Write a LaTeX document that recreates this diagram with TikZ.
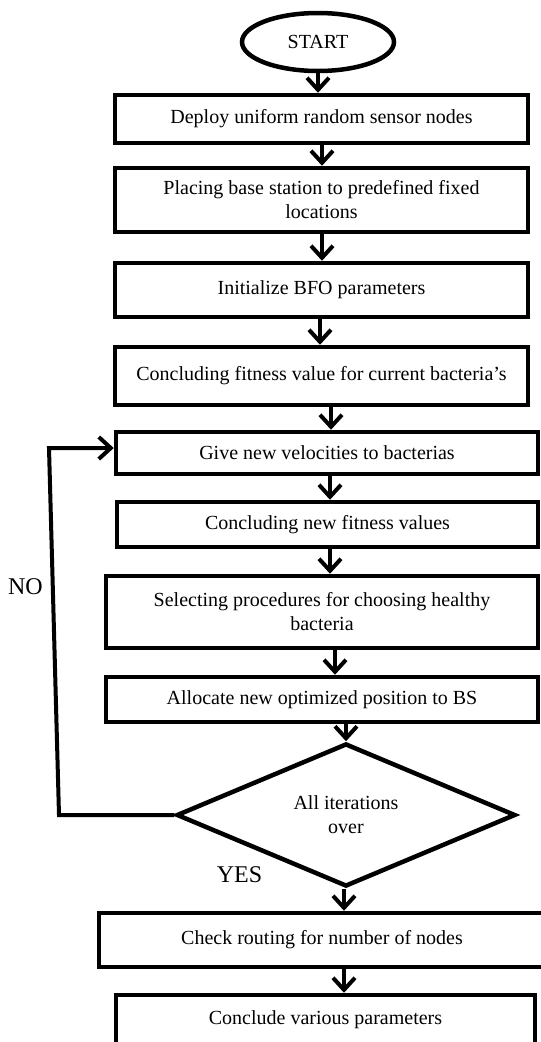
\documentclass[tikz,border=0pt]{standalone}
\usepackage{fontspec}
\setmainfont{Liberation Serif}
\usetikzlibrary{shapes.geometric,arrows.meta}
\begin{document}
\begin{tikzpicture}[x=1pt,y=-1pt,
  stepbox/.style={draw=black,line width=4.5pt,rectangle,inner sep=0pt,align=center,
    font=\fontsize{20}{24}\selectfont,fill=white},
  arr/.style={draw=black,line width=4pt,-{Straight Barb[length=12pt,width=22pt]}},
  lbl/.style={inner sep=0pt,font=\fontsize{24}{28}\selectfont}]
\useasboundingbox (0,0) rectangle (541,1042);
\fill[white] (0,0) rectangle (541,1042);

\node[draw=black,line width=4.5pt,ellipse,inner sep=0pt,minimum width=152pt,minimum height=58pt,
  font=\fontsize{20}{24}\selectfont] (start) at (318,42) {START};
\node[stepbox,minimum width=413pt,minimum height=48pt] (b1) at (321.5,119) {Deploy uniform random sensor nodes};
\node[stepbox,minimum width=413pt,minimum height=64pt] (b2) at (321.5,200) {Placing base station to predefined fixed\\locations};
\node[stepbox,minimum width=413pt,minimum height=54pt] (b3) at (321.5,290) {Initialize BFO parameters};
\node[stepbox,minimum width=413pt,minimum height=58pt] (b4) at (321.5,376) {Concluding fitness value for current bacteria’s};
\node[stepbox,minimum width=422pt,minimum height=42pt] (b5) at (327,453) {Give new velocities to bacterias};
\node[stepbox,minimum width=421pt,minimum height=45pt] (b6) at (327.5,524.5) {Concluding new fitness values};
\node[stepbox,minimum width=432pt,minimum height=72pt] (b7) at (322,612) {Selecting procedures for choosing healthy\\bacteria};
\node[stepbox,minimum width=432pt,minimum height=45pt] (b8) at (322,699.5) {Allocate new optimized position to BS};
\node[draw=black,line width=4.5pt,diamond,inner sep=0pt,minimum width=339pt,minimum height=130pt,
  align=center,font=\fontsize{20}{24}\selectfont] (dia) at (346,815) {All iterations\\over};
\node[stepbox,minimum width=446pt,minimum height=54pt] (chk) at (322,940) {Check routing for number of nodes};
\node[stepbox,minimum width=419pt,minimum height=50pt] (conc) at (325.5,1020) {Conclude various parameters};

\node[lbl] (no) at (25.5,587) {NO};
\node[lbl] (yes) at (239.5,875) {YES};

\coordinate (x0) at (318,0);
\coordinate (x1) at (322,0);
\coordinate (x3) at (320,0);
\coordinate (x4) at (331,0);
\coordinate (x5) at (330,0);
\coordinate (x7) at (335,0);
\coordinate (x9) at (344,0);

\draw[arr] (start.south -| x0) -- (b1.north -| x0);
\draw[arr] (b1.south -| x1) -- (b2.north -| x1);
\draw[arr] (b2.south -| x1) -- (b3.north -| x1);
\draw[arr] (b3.south -| x3) -- (b4.north -| x3);
\draw[arr] (b4.south -| x4) -- (b5.north -| x4);
\draw[arr] (b5.south -| x5) -- (b6.north -| x5);
\draw[arr] (b6.south -| x5) -- (b7.north -| x5);
\draw[arr] (b7.south -| x7) -- (b8.north -| x7);
\draw[arr] (b8.south -| dia.north) -- (dia.north);
\draw[arr] (dia.south -| x9) -- (chk.north -| x9);
\draw[arr] (chk.south -| x9) -- (conc.north -| x9);

\coordinate (lb) at (59,816);
\coordinate (lt) at (49,448);
\draw[arr] (dia.west) -- (dia.west -| lb) -- (lt) -- (lt -| b5.west);
\end{tikzpicture}
\end{document}
